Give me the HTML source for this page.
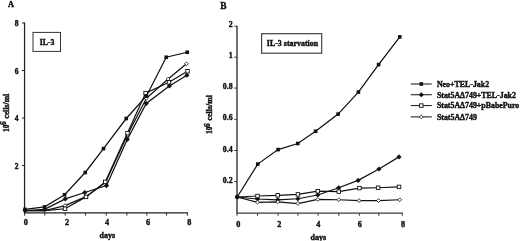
<!DOCTYPE html>
<html><head><meta charset="utf-8"><title>Figure</title>
<style>
html,body{margin:0;padding:0;background:#fff;}
svg{display:block}
text{font-family:"Liberation Serif",serif;font-weight:bold;font-size:7.88px;fill:#111;stroke:#111;stroke-width:0.4px;}
</style></head><body>
<svg width="520" height="241" viewBox="0 0 520 241">
<rect width="520" height="241" fill="#fff"/>
<g stroke="#222" stroke-width="1.25" fill="none">
<path d="M24.55 22.4V212.8H188"/>
<path d="M22 23H24.6" stroke-width="1"/>
<path d="M22 70.5H24.6" stroke-width="1"/>
<path d="M22 118H24.6" stroke-width="1"/>
<path d="M22 165.5H24.6" stroke-width="1"/>
<path d="M24.6 212.8V215.6" stroke-width="1"/>
<path d="M44.8 212.8V215.6" stroke-width="1"/>
<path d="M65.2 212.8V215.6" stroke-width="1"/>
<path d="M85.5 212.8V215.6" stroke-width="1"/>
<path d="M106.2 212.8V215.6" stroke-width="1"/>
<path d="M126.9 212.8V215.6" stroke-width="1"/>
<path d="M146.8 212.8V215.6" stroke-width="1"/>
<path d="M166.5 212.8V215.6" stroke-width="1"/>
<path d="M187.4 212.8V215.6" stroke-width="1"/>
</g>
<g stroke="#3a3a3a" stroke-width="1.45" fill="none">
<path d="M237 25.7V213.1H402.8"/>
<path d="M234.2 26.2H237" stroke-width="1"/>
<path d="M234.2 57.2H237" stroke-width="1"/>
<path d="M234.2 88.1H237" stroke-width="1"/>
<path d="M234.2 119.3H237" stroke-width="1"/>
<path d="M234.2 150.5H237" stroke-width="1"/>
<path d="M234.2 181.5H237" stroke-width="1"/>
<path d="M237 213.1V215.8" stroke-width="1"/>
<path d="M257.5 213.1V215.8" stroke-width="1"/>
<path d="M278.1 213.1V215.8" stroke-width="1"/>
<path d="M298 213.1V215.8" stroke-width="1"/>
<path d="M318.1 213.1V215.8" stroke-width="1"/>
<path d="M338.8 213.1V215.8" stroke-width="1"/>
<path d="M359.35 213.1V215.8" stroke-width="1"/>
<path d="M378.8 213.1V215.8" stroke-width="1"/>
<path d="M402.2 213.1V215.8" stroke-width="1"/>
</g>
<rect x="33" y="32.4" width="27.5" height="19" fill="#fff" stroke="#333" stroke-width="1"/>
<rect x="261.6" y="33.7" width="60.1" height="19.5" fill="#fff" stroke="#444" stroke-width="1.2"/>
<polyline points="25.00,210.50 44.60,209.40 65.25,198.90 84.75,192.50 106.50,185.60 127.25,139.40 146.25,103.50 169.40,86.00 186.90,75.25" fill="none" stroke="#111" stroke-width="1.25"/>
<path d="M25.00 207.90L27.60 210.50L25.00 213.10L22.40 210.50Z" fill="#111"/>
<path d="M44.60 206.80L47.20 209.40L44.60 212.00L42.00 209.40Z" fill="#111"/>
<path d="M65.25 196.30L67.85 198.90L65.25 201.50L62.65 198.90Z" fill="#111"/>
<path d="M84.75 189.90L87.35 192.50L84.75 195.10L82.15 192.50Z" fill="#111"/>
<path d="M106.50 183.00L109.10 185.60L106.50 188.20L103.90 185.60Z" fill="#111"/>
<path d="M127.25 136.80L129.85 139.40L127.25 142.00L124.65 139.40Z" fill="#111"/>
<path d="M146.25 100.90L148.85 103.50L146.25 106.10L143.65 103.50Z" fill="#111"/>
<path d="M169.40 83.40L172.00 86.00L169.40 88.60L166.80 86.00Z" fill="#111"/>
<path d="M186.90 72.65L189.50 75.25L186.90 77.85L184.30 75.25Z" fill="#111"/>
<polyline points="25.00,210.50 45.00,210.50 65.00,205.60 86.00,196.70 105.50,182.40 127.40,135.00 146.40,98.30 168.10,79.00 186.50,63.75" fill="none" stroke="#111" stroke-width="1.25"/>
<path d="M65.00 203.70L66.90 205.60L65.00 207.50L63.10 205.60Z" fill="#fff" stroke="#111" stroke-width="0.8"/>
<path d="M86.00 194.80L87.90 196.70L86.00 198.60L84.10 196.70Z" fill="#fff" stroke="#111" stroke-width="0.8"/>
<path d="M105.50 180.50L107.40 182.40L105.50 184.30L103.60 182.40Z" fill="#fff" stroke="#111" stroke-width="0.8"/>
<path d="M127.40 133.10L129.30 135.00L127.40 136.90L125.50 135.00Z" fill="#fff" stroke="#111" stroke-width="0.8"/>
<path d="M146.40 96.40L148.30 98.30L146.40 100.20L144.50 98.30Z" fill="#fff" stroke="#111" stroke-width="0.8"/>
<path d="M168.10 77.10L170.00 79.00L168.10 80.90L166.20 79.00Z" fill="#fff" stroke="#111" stroke-width="0.8"/>
<path d="M186.50 61.85L188.40 63.75L186.50 65.65L184.60 63.75Z" fill="#fff" stroke="#111" stroke-width="0.8"/>
<polyline points="25.00,210.50 45.00,210.50 65.00,208.75 86.00,196.90 105.25,181.90 127.50,133.10 145.60,93.10 169.00,82.25 187.50,71.25" fill="none" stroke="#111" stroke-width="1.25"/>
<rect x="63.25" y="207.00" width="3.5" height="3.5" fill="#fff" stroke="#111" stroke-width="0.9"/>
<rect x="84.25" y="195.15" width="3.5" height="3.5" fill="#fff" stroke="#111" stroke-width="0.9"/>
<rect x="103.50" y="180.15" width="3.5" height="3.5" fill="#fff" stroke="#111" stroke-width="0.9"/>
<rect x="125.75" y="131.35" width="3.5" height="3.5" fill="#fff" stroke="#111" stroke-width="0.9"/>
<rect x="143.85" y="91.35" width="3.5" height="3.5" fill="#fff" stroke="#111" stroke-width="0.9"/>
<rect x="167.25" y="80.50" width="3.5" height="3.5" fill="#fff" stroke="#111" stroke-width="0.9"/>
<rect x="185.75" y="69.50" width="3.5" height="3.5" fill="#fff" stroke="#111" stroke-width="0.9"/>
<polyline points="25.00,209.40 44.60,206.90 64.60,194.75 85.25,172.50 103.50,148.60 126.25,118.50 146.50,96.00 166.25,57.25 187.25,52.25" fill="none" stroke="#111" stroke-width="1.25"/>
<rect x="23.20" y="207.60" width="3.6" height="3.6" fill="#111"/>
<rect x="42.80" y="205.10" width="3.6" height="3.6" fill="#111"/>
<rect x="62.80" y="192.95" width="3.6" height="3.6" fill="#111"/>
<rect x="83.45" y="170.70" width="3.6" height="3.6" fill="#111"/>
<rect x="101.70" y="146.80" width="3.6" height="3.6" fill="#111"/>
<rect x="124.45" y="116.70" width="3.6" height="3.6" fill="#111"/>
<rect x="144.70" y="94.20" width="3.6" height="3.6" fill="#111"/>
<rect x="164.45" y="55.45" width="3.6" height="3.6" fill="#111"/>
<rect x="185.45" y="50.45" width="3.6" height="3.6" fill="#111"/>
<polyline points="237.20,197.00 257.50,199.00 277.75,199.75 297.90,198.75 317.75,195.00 338.75,187.75 358.10,180.40 379.00,169.00 399.00,156.90" fill="none" stroke="#111" stroke-width="1.25"/>
<path d="M237.20 194.40L239.80 197.00L237.20 199.60L234.60 197.00Z" fill="#111"/>
<path d="M257.50 196.40L260.10 199.00L257.50 201.60L254.90 199.00Z" fill="#111"/>
<path d="M277.75 197.15L280.35 199.75L277.75 202.35L275.15 199.75Z" fill="#111"/>
<path d="M297.90 196.15L300.50 198.75L297.90 201.35L295.30 198.75Z" fill="#111"/>
<path d="M317.75 192.40L320.35 195.00L317.75 197.60L315.15 195.00Z" fill="#111"/>
<path d="M338.75 185.15L341.35 187.75L338.75 190.35L336.15 187.75Z" fill="#111"/>
<path d="M358.10 177.80L360.70 180.40L358.10 183.00L355.50 180.40Z" fill="#111"/>
<path d="M379.00 166.40L381.60 169.00L379.00 171.60L376.40 169.00Z" fill="#111"/>
<path d="M399.00 154.30L401.60 156.90L399.00 159.50L396.40 156.90Z" fill="#111"/>
<polyline points="237.20,197.00 257.50,202.25 277.75,201.90 297.90,203.50 317.75,199.40 338.75,199.75 359.10,200.60 378.50,200.60 399.75,199.75" fill="none" stroke="#111" stroke-width="1.25"/>
<path d="M257.50 200.35L259.40 202.25L257.50 204.15L255.60 202.25Z" fill="#fff" stroke="#111" stroke-width="0.8"/>
<path d="M277.75 200.00L279.65 201.90L277.75 203.80L275.85 201.90Z" fill="#fff" stroke="#111" stroke-width="0.8"/>
<path d="M297.90 201.60L299.80 203.50L297.90 205.40L296.00 203.50Z" fill="#fff" stroke="#111" stroke-width="0.8"/>
<path d="M317.75 197.50L319.65 199.40L317.75 201.30L315.85 199.40Z" fill="#fff" stroke="#111" stroke-width="0.8"/>
<path d="M338.75 197.85L340.65 199.75L338.75 201.65L336.85 199.75Z" fill="#fff" stroke="#111" stroke-width="0.8"/>
<path d="M359.10 198.70L361.00 200.60L359.10 202.50L357.20 200.60Z" fill="#fff" stroke="#111" stroke-width="0.8"/>
<path d="M378.50 198.70L380.40 200.60L378.50 202.50L376.60 200.60Z" fill="#fff" stroke="#111" stroke-width="0.8"/>
<path d="M399.75 197.85L401.65 199.75L399.75 201.65L397.85 199.75Z" fill="#fff" stroke="#111" stroke-width="0.8"/>
<polyline points="237.20,197.00 257.50,196.00 277.75,195.30 297.90,194.40 317.75,191.25 338.75,191.60 359.40,188.10 378.10,187.75 399.00,186.90" fill="none" stroke="#111" stroke-width="1.25"/>
<rect x="255.75" y="194.25" width="3.5" height="3.5" fill="#fff" stroke="#111" stroke-width="0.9"/>
<rect x="276.00" y="193.55" width="3.5" height="3.5" fill="#fff" stroke="#111" stroke-width="0.9"/>
<rect x="296.15" y="192.65" width="3.5" height="3.5" fill="#fff" stroke="#111" stroke-width="0.9"/>
<rect x="316.00" y="189.50" width="3.5" height="3.5" fill="#fff" stroke="#111" stroke-width="0.9"/>
<rect x="337.00" y="189.85" width="3.5" height="3.5" fill="#fff" stroke="#111" stroke-width="0.9"/>
<rect x="357.65" y="186.35" width="3.5" height="3.5" fill="#fff" stroke="#111" stroke-width="0.9"/>
<rect x="376.35" y="186.00" width="3.5" height="3.5" fill="#fff" stroke="#111" stroke-width="0.9"/>
<rect x="397.25" y="185.15" width="3.5" height="3.5" fill="#fff" stroke="#111" stroke-width="0.9"/>
<polyline points="237.20,197.00 257.75,164.10 278.10,149.60 297.80,143.50 315.60,131.25 338.10,114.10 358.40,92.10 378.60,64.60 399.80,36.90" fill="none" stroke="#111" stroke-width="1.25"/>
<rect x="235.40" y="195.20" width="3.6" height="3.6" fill="#111"/>
<rect x="255.95" y="162.30" width="3.6" height="3.6" fill="#111"/>
<rect x="276.30" y="147.80" width="3.6" height="3.6" fill="#111"/>
<rect x="296.00" y="141.70" width="3.6" height="3.6" fill="#111"/>
<rect x="313.80" y="129.45" width="3.6" height="3.6" fill="#111"/>
<rect x="336.30" y="112.30" width="3.6" height="3.6" fill="#111"/>
<rect x="356.60" y="90.30" width="3.6" height="3.6" fill="#111"/>
<rect x="376.80" y="62.80" width="3.6" height="3.6" fill="#111"/>
<rect x="398.00" y="35.10" width="3.6" height="3.6" fill="#111"/>
<path d="M410.8 84H431.8" stroke="#111" stroke-width="1"/>
<rect x="419.50" y="82.20" width="3.6" height="3.6" fill="#111"/>
<text x="436.9" y="86.80">Neo+TEL-Jak2</text>
<path d="M410.8 94.75H431.8" stroke="#111" stroke-width="1"/>
<path d="M421.30 92.15L423.90 94.75L421.30 97.35L418.70 94.75Z" fill="#111"/>
<text x="436.9" y="97.55">Stat5AΔ749+TEL-Jak2</text>
<path d="M410.8 105.6H431.8" stroke="#111" stroke-width="1"/>
<rect x="419.55" y="103.85" width="3.5" height="3.5" fill="#fff" stroke="#111" stroke-width="0.9"/>
<text x="436.9" y="108.40">Stat5AΔ749+pBabePuro</text>
<path d="M410.8 116.9H431.8" stroke="#111" stroke-width="1"/>
<path d="M421.30 115.00L423.20 116.90L421.30 118.80L419.40 116.90Z" fill="#fff" stroke="#111" stroke-width="0.8"/>
<text x="436.9" y="119.70">Stat5AΔ749</text>
<text x="8" y="7" style="font-size:8.3px">A</text>
<text x="220.2" y="8.6" style="font-size:9.4px">B</text>
<text x="47" y="44.9" text-anchor="middle" style="font-size:7.8px">IL-3</text>
<text x="292.5" y="46.4" text-anchor="middle" style="font-size:7.95px">IL-3 starvation</text>
<text x="18.4" y="26.1" text-anchor="end" style="font-size:7.5px">8</text>
<text x="18.4" y="73.6" text-anchor="end" style="font-size:7.5px">6</text>
<text x="18.4" y="121.1" text-anchor="end" style="font-size:7.5px">4</text>
<text x="18.4" y="168.6" text-anchor="end" style="font-size:7.5px">2</text>
<text x="25.8" y="224.7" text-anchor="middle" style="font-size:8.2px">0</text>
<text x="67" y="224.7" text-anchor="middle" style="font-size:8.2px">2</text>
<text x="107" y="224.7" text-anchor="middle" style="font-size:8.2px">4</text>
<text x="148" y="224.7" text-anchor="middle" style="font-size:8.2px">6</text>
<text x="189.2" y="224.7" text-anchor="middle" style="font-size:8.2px">8</text>
<text x="107.4" y="237.6" text-anchor="middle" style="font-size:8px">days</text>
<text transform="translate(8.5 132.0) rotate(-90)" style="font-size:7.4px">10<tspan x="6.9" y="-2.8" style="font-size:7.4px">6</tspan><tspan x="13.5" y="0" style="font-size:7.7px">cells/ml</tspan></text>
<text x="232.6" y="27.3" text-anchor="end" style="font-size:7.8px">2</text>
<text x="232.6" y="58.300000000000004" text-anchor="end" style="font-size:7.8px">1</text>
<text x="232.6" y="89.19999999999999" text-anchor="end" style="font-size:7.8px">0.8</text>
<text x="232.6" y="120.39999999999999" text-anchor="end" style="font-size:7.8px">0.6</text>
<text x="232.6" y="151.6" text-anchor="end" style="font-size:7.8px">0.4</text>
<text x="232.6" y="182.6" text-anchor="end" style="font-size:7.8px">0.2</text>
<text x="238.3" y="226.6" text-anchor="middle" style="font-size:8.2px">0</text>
<text x="279.3" y="226.6" text-anchor="middle" style="font-size:8.2px">2</text>
<text x="318.4" y="226.6" text-anchor="middle" style="font-size:8.2px">4</text>
<text x="359.7" y="226.6" text-anchor="middle" style="font-size:8.2px">6</text>
<text x="403" y="226.6" text-anchor="middle" style="font-size:8.2px">8</text>
<text x="318.4" y="239.5" text-anchor="middle" style="font-size:8px">days</text>
<text transform="translate(212.3 134.0) rotate(-90)" style="font-size:7.4px">10<tspan x="6.9" y="-2.8" style="font-size:7.4px">6</tspan><tspan x="13.5" y="0" style="font-size:7.9px">cells/ml</tspan></text>
</svg>
</body></html>
